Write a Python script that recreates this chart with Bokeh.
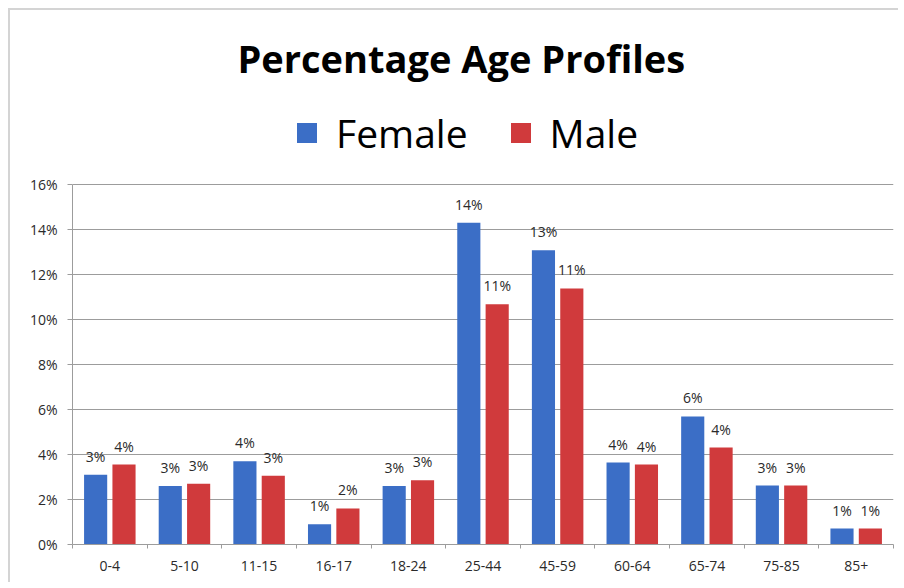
from bokeh.plotting import figure
from bokeh.models import (ColumnDataSource, Range1d, FixedTicker, PrintfTickFormatter,
                          Legend, LegendItem)
from bokeh.embed import file_html
from bokeh.resources import INLINE
from bokeh.core.properties import value

categories = ["0-4", "5-10", "11-15", "16-17", "18-24", "25-44", "45-59",
              "60-64", "65-74", "75-85", "85+"]
female = [3.1, 2.6, 3.7, 0.9, 2.6, 14.3, 13.07, 3.64, 5.69, 2.62, 0.71]
male = [3.55, 2.7, 3.05, 1.6, 2.85, 10.67, 11.38, 3.55, 4.31, 2.62, 0.71]
y_ticks = [0, 2, 4, 6, 8, 10, 12, 14, 16]

FONT = "Open Sans"
BLUE = "#3B6EC6"
RED = "#D03A3C"
TXT = "#2a2a2a"
GRID = "#9c9c9c"

n = len(categories)
centers = [i + 0.5 for i in range(n)]
off = 0.19
src_f = ColumnDataSource(dict(x=[c - off for c in centers], top=female,
                              lab=["%d%%" % round(v) for v in female]))
src_m = ColumnDataSource(dict(x=[c + off for c in centers], top=male,
                              lab=["%d%%" % round(v) for v in male]))

# frame extends above the 16% line to host the legend; axis is bounded to 0-16
p = figure(width=890, height=574, output_backend="svg", toolbar_location=None,
           x_range=Range1d(0, n), y_range=Range1d(0, 19.64),
           min_border_left=62, min_border_right=7, min_border_bottom=40,
           min_border_top=92,
           title="Percentage Age Profiles")
p.styles = {"border-left": "2px solid #d4d4d4", "border-top": "2px solid #d4d4d4",
            "margin-left": "8px", "margin-top": "8px"}
p.outline_line_color = None
p.background_fill_color = "white"
p.border_fill_color = "white"

p.title.text_font = FONT
p.title.text_font_size = "38px"
p.title.text_font_style = "bold"
p.title.text_color = "#000000"
p.title.align = "left"
p.title.offset = 165
p.title.standoff = 38

rf = p.vbar(x="x", top="top", width=0.31, source=src_f, fill_color=BLUE, line_color=None)
rm = p.vbar(x="x", top="top", width=0.31, source=src_m, fill_color=RED, line_color=None)

for s in (src_f, src_m):
    p.text(x="x", y="top", text="lab", source=s, text_align="center",
           text_baseline="bottom", y_offset=-9, text_font=value(FONT),
           text_font_size="14px", text_color=TXT)

legend = Legend(items=[LegendItem(label="Female", renderers=[rf]),
                       LegendItem(label="Male", renderers=[rm])],
                orientation="horizontal", location=(222, 385),
                label_text_font=FONT, label_text_font_size="39px",
                label_text_color="#000000",
                glyph_width=25, glyph_height=25, label_standoff=17, spacing=40,
                border_line_color=None, background_fill_alpha=0,
                margin=0, padding=4)
p.add_layout(legend, "center")

# x axis: labels at category centres, small ticks at boundaries
p.xaxis.ticker = FixedTicker(ticks=centers, minor_ticks=list(range(n + 1)))
p.xaxis.major_label_overrides = {c: lab for c, lab in zip(centers, categories)}
p.xaxis.major_tick_out = 0
p.xaxis.major_tick_in = 0
p.xaxis.minor_tick_out = 4
p.xaxis.minor_tick_in = 0
p.xaxis.minor_tick_line_color = GRID
p.xaxis.axis_line_color = GRID
p.xaxis.major_label_text_font = FONT
p.xaxis.major_label_text_font_size = "14px"
p.xaxis.major_label_text_color = TXT
p.xaxis.major_label_standoff = 12
p.xgrid.grid_line_color = None

p.yaxis.ticker = FixedTicker(ticks=y_ticks)
p.yaxis.bounds = (0, 16)
p.yaxis.formatter = PrintfTickFormatter(format="%d%%")
p.yaxis.major_tick_out = 5
p.yaxis.major_tick_in = 0
p.yaxis.minor_tick_line_color = None
p.yaxis.major_tick_line_color = GRID
p.yaxis.axis_line_color = GRID
p.yaxis.major_label_text_font = FONT
p.yaxis.major_label_text_font_size = "14px"
p.yaxis.major_label_text_color = TXT
p.yaxis.major_label_standoff = 10
p.ygrid.grid_line_color = GRID
p.ygrid.grid_line_width = 1

open("out.html", "w").write(file_html(p, INLINE))
